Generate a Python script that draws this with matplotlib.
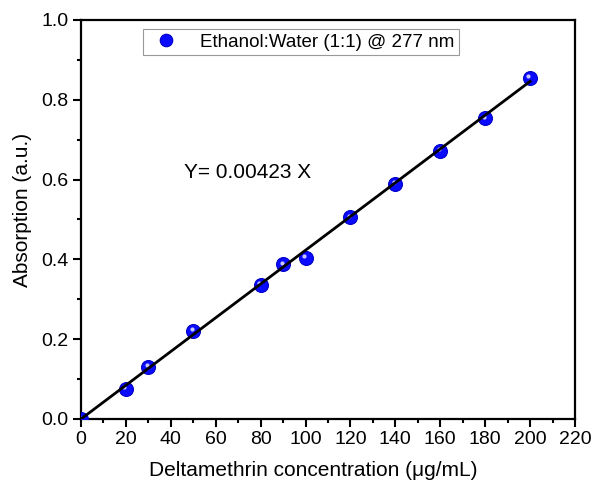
import numpy as np
import matplotlib
matplotlib.use("Agg")
import matplotlib.pyplot as plt
from matplotlib.ticker import MultipleLocator

plt.rcParams["font.family"] = ["Liberation Sans", "DejaVu Sans"]

# calibration data
conc = [0, 20, 30, 50, 80, 90, 100, 120, 140, 160, 180, 200]
absorb = [0.0, 0.075, 0.131, 0.221, 0.337, 0.388, 0.404, 0.506, 0.590, 0.672, 0.754, 0.855]
slope = 0.00423
fit_x = [0, 200]

fig = plt.figure(figsize=(5.93, 4.84), dpi=100)
ax = fig.add_axes([0.1366, 0.1343, 0.833, 0.8244])

# sphere-ish markers: blue disc + small light highlight
ax.plot(conc, absorb, "o", ms=10, mfc="#0a0aff", mec="#0000c8", mew=0.8,
        label="Ethanol:Water (1:1) @ 277 nm", zorder=3)
ax.plot(np.array(conc) - 0.7, np.array(absorb) + 0.004, "o", ms=3, mfc="#c8c8ff",
        mec="none", zorder=4)
ax.plot(fit_x, [slope * v for v in fit_x], "-", color="black", lw=2, zorder=5)

ax.text(46, 0.617, "Y= 0.00423 X", fontsize=15, va="center", ha="left")

ax.set_xlim(0, 220)
ax.set_ylim(0, 1.0)
ax.xaxis.set_major_locator(MultipleLocator(20))
ax.xaxis.set_minor_locator(MultipleLocator(10))
ax.yaxis.set_major_locator(MultipleLocator(0.2))
ax.yaxis.set_minor_locator(MultipleLocator(0.1))
ax.xaxis.set_major_formatter(plt.FuncFormatter(lambda v, p: f"{v:.0f}"))
ax.yaxis.set_major_formatter(plt.FuncFormatter(lambda v, p: f"{v:.1f}"))

ax.tick_params(which="both", direction="out", width=1.5, labelsize=14, pad=3,
               top=False, right=False)
ax.tick_params(which="major", length=6)
ax.tick_params(which="minor", length=3)
for s in ax.spines.values():
    s.set_linewidth(1.6)

ax.set_xlabel("Deltamethrin concentration (\u03bcg/mL)", fontsize=15)
ax.set_ylabel("Absorption (a.u.)", fontsize=15)
ax.xaxis.set_label_coords(0.47, -0.105)
ax.yaxis.set_label_coords(-0.1, 0.523)

leg = ax.legend(loc="upper center", bbox_to_anchor=(0.445, 0.978), fontsize=13.5,
                frameon=True, fancybox=False, edgecolor="#808080", handletextpad=0.8,
                borderpad=0.25, borderaxespad=0.0, markerscale=0.9)
leg.get_frame().set_linewidth(0.8)

fig.savefig("out.png", dpi=100)
